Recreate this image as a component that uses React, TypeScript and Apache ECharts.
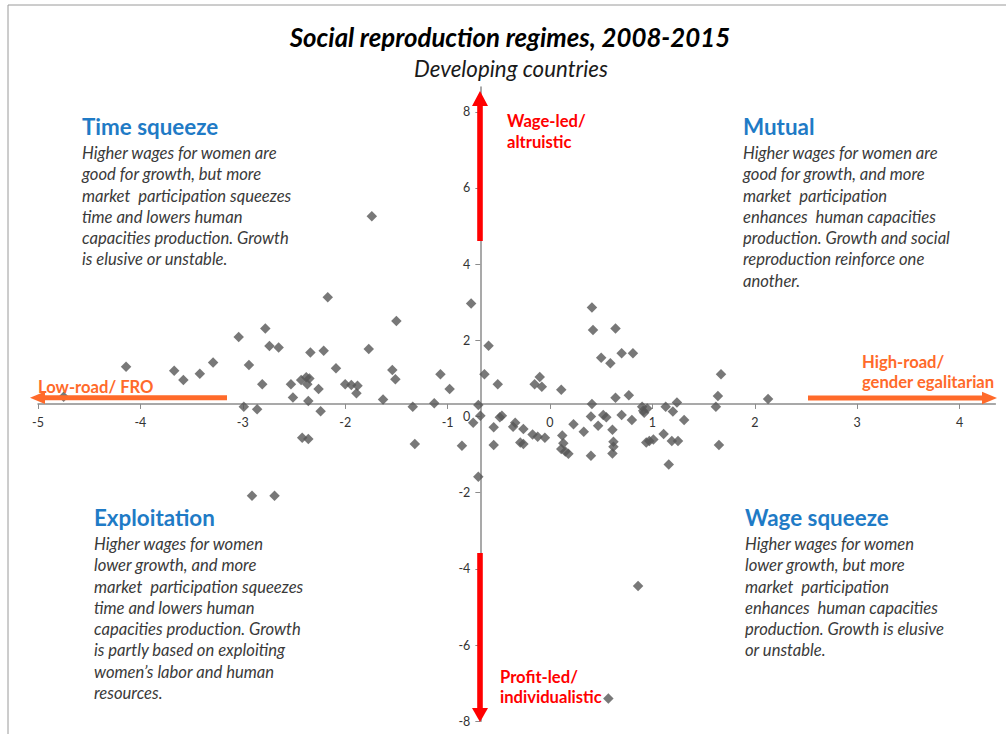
import React, { useEffect, useRef } from "react";
import * as echarts from "echarts";

// Scatter values (x: horizontal effect, y: vertical effect)
const xValues = [
  -4.75, -4.14, -3.67, -3.58, -3.42, -3.29, -3.04, -2.94, -2.78, -2.74,
  -2.65, -2.81, -2.99, -2.86, -2.53, -2.51, -2.43, -2.38, -2.35, -2.37,
  -2.34, -2.36, -2.26, -2.21, -2.17, -2.24, -2.42, -2.36, -2.09, -2.0,
  -1.94, -1.88, -1.89, -1.77, -1.63, -1.54, -1.51, -1.5, -1.34, -1.32,
  -1.13, -1.07, -0.98, -0.86, -0.77, -0.75, -2.91, -2.69, -1.74, -0.7,
  -0.6, -0.64, -0.51, -0.7, -0.68, -0.55, -0.55, -0.49, -0.47, -0.36,
  -0.34, -0.26, -0.29, -0.26, -0.17, -0.12, -0.05, -0.15, -0.1, -0.08,
  0.11, 0.12, 0.13, 0.11, 0.15, 0.18, 0.23, 0.33, 0.41, 0.42,
  0.41, 0.4, 0.4, 0.47, 0.5, 0.52, 0.55, 0.59, 0.61, 0.62,
  0.62, 0.61, 0.64, 0.64, 0.7, 0.7, 0.77, 0.8, 0.81, 0.9,
  0.91, 0.92, 0.95, 0.94, 0.97, 1.01, 1.11, 1.13, 1.2, 1.24,
  1.31, 1.19, 1.25, 1.16, 1.62, 1.64, 1.67, 1.65, 2.13, 0.86,
  0.57,
];
const yValues = [
  0.52, 1.31, 1.2, 0.96, 1.12, 1.42, 2.09, 1.35, 2.31, 1.85,
  1.81, 0.85, 0.26, 0.19, 0.85, 0.5, 0.96, 1.03, 1.0, 0.85,
  1.68, 0.41, 0.72, 1.73, 3.13, 0.14, -0.56, -0.59, 1.27, 0.85,
  0.83, 0.81, 0.61, 1.77, 0.45, 1.22, 0.98, 2.51, 0.26, -0.72,
  0.35, 1.11, 0.72, -0.77, 2.97, -0.16, -2.08, -2.08, 5.26, -1.58,
  1.86, 1.11, 0.85, 0.3, 0.02, -0.75, -0.28, -0.02, 0.02, -0.27,
  -0.16, -0.33, -0.68, -0.72, -0.47, -0.53, -0.56, 0.85, 1.04, 0.78,
  0.7, -0.5, -0.7, -0.85, -0.92, -0.98, -0.2, -0.4, 2.86, 2.27,
  0.33, 0.0, -1.03, -0.24, 1.54, 0.04, -0.02, 1.4, -0.35, -0.66,
  -0.79, -0.97, 2.31, 0.49, 1.66, 0.04, 0.56, -0.09, 1.66, 0.26,
  0.15, 0.1, 0.21, -0.68, -0.64, -0.6, -0.46, 0.26, 0.13, 0.37,
  -0.09, -0.64, -0.64, -1.26, 0.26, 0.54, 1.11, -0.75, 0.46, -4.45,
  -7.4,
];

const xTicks = [-5, -4, -3, -2, -1, 0, 1, 2, 3, 4];
const yTicks = [-8, -6, -4, -2, 0, 2, 4, 6, 8];

const X_MIN = -5;
const X_MAX = 4.35;
const Y_MIN = -8;
const Y_MAX = 8.65;
// where the axes cross
const X_CROSS = -0.68;
const Y_CROSS = 0.33;

const titleText = "Social reproduction regimes, 2008-2015";
const subtitleText = "Developing countries";

const quadrants = [
  {
    head: "Time squeeze",
    body: [
      "Higher wages for women are",
      "good for growth, but more",
      "market  participation squeezes",
      "time and lowers human",
      "capacities production. Growth",
      "is elusive or unstable.",
    ],
    x: 82, hy: 126, by: 153,
  },
  {
    head: "Mutual",
    body: [
      "Higher wages for women are",
      "good for growth, and more",
      "market  participation",
      "enhances  human capacities",
      "production. Growth and social",
      "reproduction reinforce one",
      "another.",
    ],
    x: 743, hy: 126, by: 153,
  },
  {
    head: "Exploitation",
    body: [
      "Higher wages for women",
      "lower growth, and more",
      "market  participation squeezes",
      "time and lowers human",
      "capacities production. Growth",
      "is partly based on exploiting",
      "women\u2019s labor and human",
      "resources.",
    ],
    x: 94, hy: 517, by: 544,
  },
  {
    head: "Wage squeeze",
    body: [
      "Higher wages for women",
      "lower growth, but more",
      "market  participation",
      "enhances  human capacities",
      "production. Growth is elusive",
      "or unstable.",
    ],
    x: 745, hy: 517, by: 544,
  },
];

const FONT = "Lato, 'Open Sans', sans-serif";
const RED = "#ff0000";
const ORANGE = "#ff6a2a";
const BLUE = "#1f7bc6";

export default function App() {
  const ref = useRef<HTMLDivElement>(null);

  useEffect(() => {
    if (!ref.current) return;
    const chart = echarts.init(ref.current, null, { renderer: "svg" });
    const W = 1006;
    const H = 734;
    const gridLeft = 38;
    const gridRight = 10.6;
    const gridTop = 87;
    const gridBottom = 12.7;
    const gw = W - gridLeft - gridRight;
    const gh = H - gridTop - gridBottom;
    const pxX = gw / (X_MAX - X_MIN);
    const pxY = gh / (Y_MAX - Y_MIN);
    const xOffset = -(Y_CROSS - Y_MIN) * pxY;
    const yOffset = -(X_CROSS - X_MIN) * pxX;

    const lh = 21.3;
    const graphics: any[] = [
      {
        type: "rect",
        silent: true,
        shape: { x: 8, y: 5, width: 1200, height: 900 },
        style: { fill: "none", stroke: "#9a9a9a", lineWidth: 1 },
      },
      {
        type: "text",
        x: 510,
        y: 37,
        style: {
          text: titleText,
          fontFamily: FONT,
          fontSize: 25.8,
          fontWeight: "bold",
          fontStyle: "italic",
          fill: "#000",
          align: "center",
          verticalAlign: "middle",
        },
      },
      {
        type: "text",
        x: 511,
        y: 68,
        style: {
          text: subtitleText,
          fontFamily: FONT,
          fontSize: 22.3,
          fontStyle: "italic",
          fill: "#1a1a1a",
          align: "center",
          verticalAlign: "middle",
        },
      },
    ];
    quadrants.forEach((q) => {
      graphics.push({
        type: "text",
        x: q.x,
        y: q.hy,
        style: {
          text: q.head,
          fontFamily: FONT,
          fontSize: 22.4,
          fontWeight: "bold",
          fill: BLUE,
          align: "left",
          verticalAlign: "middle",
        },
      });
      graphics.push({
        type: "text",
        x: q.x,
        y: q.by - lh / 2,
        style: {
          text: q.body.join("\n"),
          fontFamily: FONT,
          fontSize: 16.6,
          fontStyle: "italic",
          fill: "#3a3a3a",
          lineHeight: lh,
          align: "left",
          verticalAlign: "top",
        },
      });
    });
    const label = (text: string, x: number, y: number, fill: string) => ({
      type: "text",
      x,
      y,
      z: 20,
      style: {
        text,
        fontFamily: FONT,
        fontSize: 16.6,
        fontWeight: "bold",
        fill,
        align: "left",
        verticalAlign: "middle",
      },
    });
    graphics.push(label("Wage-led/", 507, 121, RED));
    graphics.push(label("altruistic", 507, 142, RED));
    graphics.push(label("Profit-led/", 500, 677, RED));
    graphics.push(label("individualistic", 500, 697, RED));
    graphics.push(label("Low-road/ FRO", 38, 387, ORANGE));
    graphics.push(label("High-road/", 862, 362, ORANGE));
    graphics.push(label("gender egalitarian", 862, 382, ORANGE));

    // arrows
    const ax = 480;
    graphics.push(
      { type: "rect", z: 20, shape: { x: ax - 2.8, y: 104, width: 5.6, height: 137 }, style: { fill: RED } },
      { type: "polygon", z: 20, shape: { points: [[ax, 91], [ax - 8, 106], [ax + 8, 106]] }, style: { fill: RED } },
      { type: "rect", z: 20, shape: { x: ax - 2.8, y: 553, width: 5.6, height: 158 }, style: { fill: RED } },
      { type: "polygon", z: 20, shape: { points: [[ax, 722], [ax - 8, 708], [ax + 8, 708]] }, style: { fill: RED } },
      { type: "rect", z: 20, shape: { x: 43, y: 395.3, width: 184, height: 5 }, style: { fill: ORANGE } },
      { type: "polygon", z: 20, shape: { points: [[30, 397.8], [45, 391.5], [45, 404]] }, style: { fill: ORANGE } },
      { type: "rect", z: 20, shape: { x: 808, y: 395.5, width: 176, height: 5 }, style: { fill: ORANGE } },
      { type: "polygon", z: 20, shape: { points: [[997, 398], [982, 391.7], [982, 404.3]] }, style: { fill: ORANGE } }
    );

    const axisLabelStyle = {
      fontFamily: FONT,
      fontSize: 12.5,
      color: "#333",
    };

    chart.setOption({
      animation: false,
      grid: { left: gridLeft, right: gridRight, top: gridTop, bottom: gridBottom, containLabel: false },
      xAxis: {
        type: "value",
        min: X_MIN,
        max: X_MAX,
        interval: 1,
        offset: xOffset,
        splitLine: { show: false },
        axisLine: { onZero: false, lineStyle: { color: "#8c8c8c", width: 1.5 } },
        axisTick: { show: true, length: 5, lineStyle: { color: "#8c8c8c" }, customValues: xTicks },
        axisLabel: { ...axisLabelStyle, margin: 12, customValues: xTicks, showMaxLabel: true },
      },
      yAxis: {
        type: "value",
        min: Y_MIN,
        max: Y_MAX,
        interval: 2,
        offset: yOffset,
        splitLine: { show: false },
        axisLine: { onZero: false, lineStyle: { color: "#8c8c8c", width: 1.5 } },
        axisTick: { show: true, length: 5, lineStyle: { color: "#8c8c8c" }, customValues: yTicks },
        axisLabel: { ...axisLabelStyle, margin: 10, customValues: yTicks },
      },
      series: [
        {
          type: "scatter",
          symbol: "diamond",
          symbolSize: 10.5,
          itemStyle: { color: "#565656" },
          data: xValues.map((x, i) => [x, yValues[i]]),
          z: 5,
        },
      ],
      graphic: graphics,
    });

    return () => chart.dispose();
  }, []);

  return (
    <div
      ref={ref}
      style={{ position: "absolute", left: 0, top: 0, width: 1006, height: 734, background: "#fff" }}
    />
  );
}
